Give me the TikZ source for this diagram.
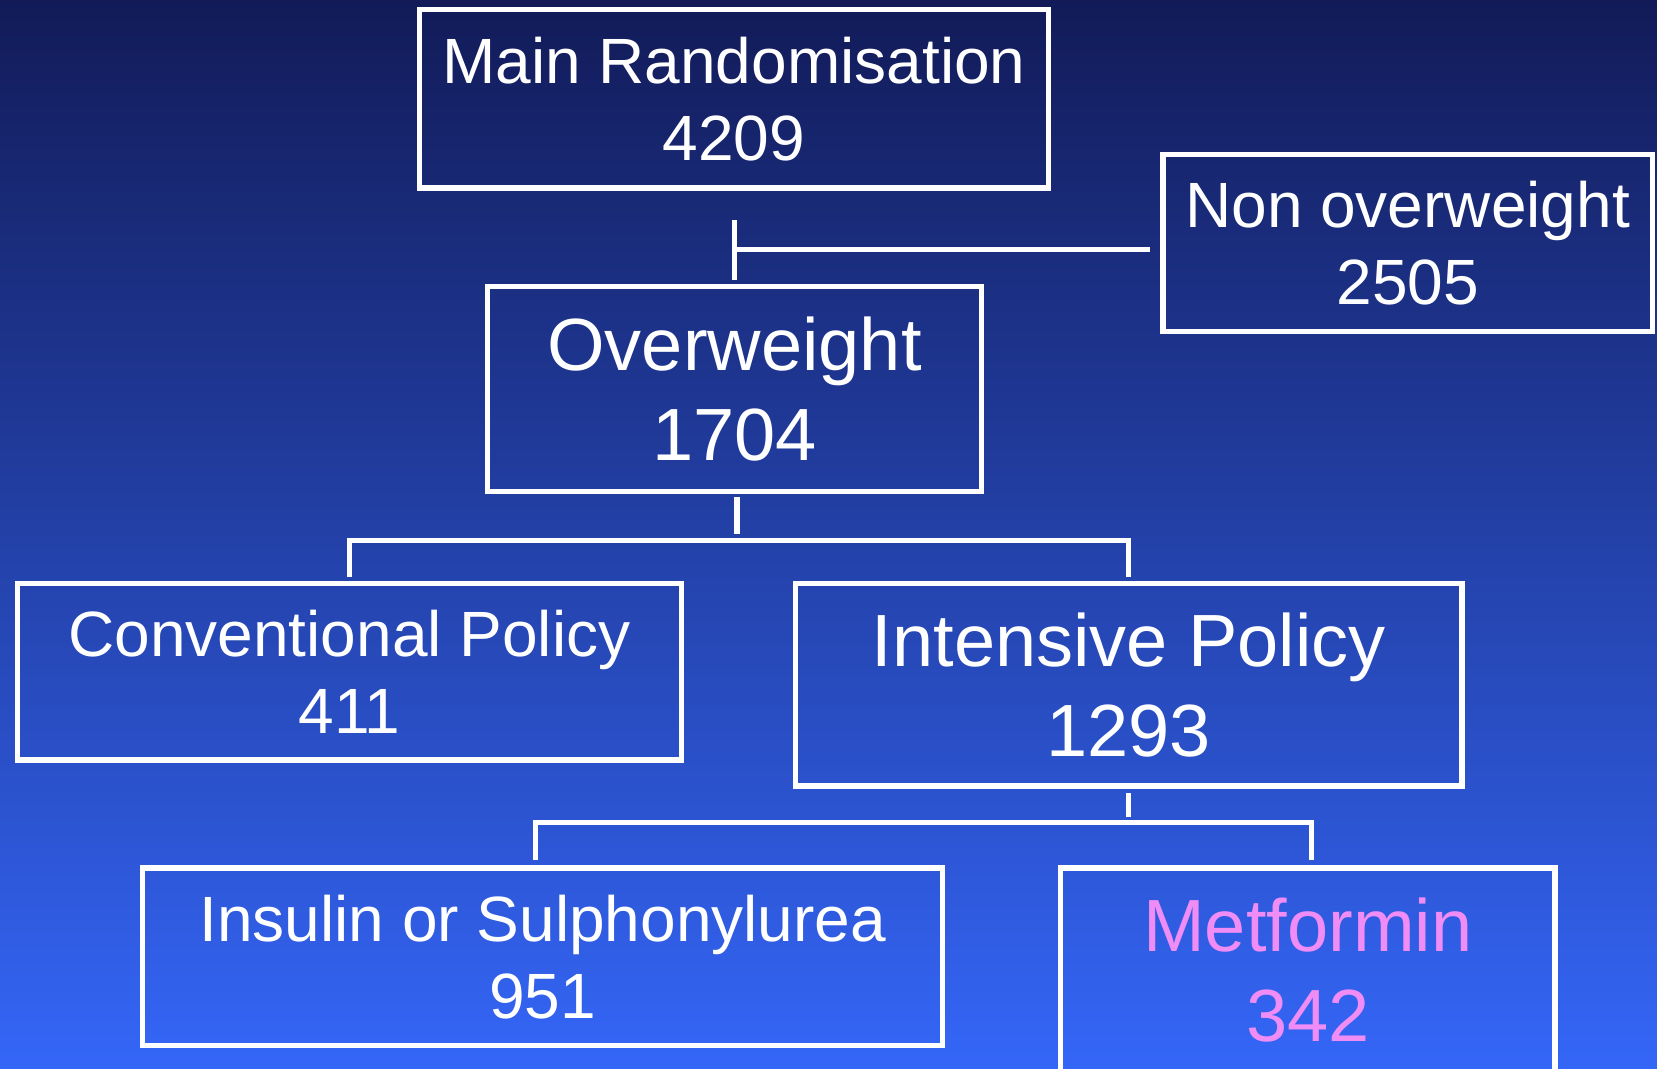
\documentclass[tikz,border=0pt]{standalone}
\usepackage{fontspec}
\setmainfont{Liberation Sans}
\usetikzlibrary{calc}
\definecolor{bgtop}{RGB}{18,27,88}
\definecolor{bgmid}{RGB}{38,77,195}
\definecolor{bgbot}{RGB}{52,102,247}
\definecolor{metpink}{RGB}{240,140,245}
\tikzset{
  boxbase/.style={draw=white, line width=3.9pt, rectangle, inner sep=0pt, align=center, text=white},
  smalltext/.style={font=\fontsize{48}{57.75}\selectfont},
  bigtext/.style={font=\fontsize{55.5}{67.5}\selectfont},
  conn/.style={draw=white, line width=3.9pt, line join=miter},
}
\begin{document}
\begin{tikzpicture}[x=0.75pt,y=-0.75pt]
\useasboundingbox (0,0) rectangle (1657,1069);
\clip (0,0) rectangle (1657,1069);
\shade[top color=bgtop, middle color=bgmid, bottom color=bgbot] (0,0) rectangle (1657,1069);

\node[boxbase, smalltext, minimum width=628.8*0.75pt, minimum height=178.6*0.75pt] (main) at (733.9,98.8) {Main Randomisation\\4209};
\node[boxbase, smalltext, minimum width=489.3*0.75pt, minimum height=177.5*0.75pt] (non) at (1407.6,243) {Non overweight\\2505};
\node[boxbase, bigtext, minimum width=494.6*0.75pt, minimum height=205*0.75pt] (over) at (734.5,388.9) {Overweight\\1704};
\node[boxbase, smalltext, minimum width=664.3*0.75pt, minimum height=176.7*0.75pt] (conv) at (349.5,671.7) {Conventional Policy\\411};
\node[boxbase, bigtext, minimum width=666.4*0.75pt, minimum height=202.7*0.75pt] (int) at (1128.8,684.7) {Intensive Policy\\1293};
\node[boxbase, smalltext, minimum width=800*0.75pt, minimum height=177.7*0.75pt] (ins) at (542.8,956.9) {Insulin or Sulphonylurea\\951};
\node[boxbase, bigtext, text=metpink, minimum width=494.5*0.75pt, minimum height=204*0.75pt] (met) at (1307.8,970) {Metformin\\342};

% connector points
\coordinate (a1) at (734.5,220);
\coordinate (a2) at (734.5,280);
\coordinate (a3) at (734.5,249.3);
\coordinate (a4) at (1150,249.3);
\coordinate (b1) at (737,497.5);
\coordinate (b2) at (737,534);
\coordinate (b3) at (349.8,577);
\coordinate (b4) at (349.8,540.3);
\coordinate (b5) at (1128.7,540.3);
\coordinate (b6) at (1128.7,577);
\coordinate (c1) at (1128.6,793);
\coordinate (c2) at (1128.6,816.5);
\coordinate (c3) at (535.7,859.5);
\coordinate (c4) at (535.7,822.5);
\coordinate (c5) at (1311.6,822.5);
\coordinate (c6) at (1311.6,860);

\draw[conn] (a1) -- (a2);
\draw[conn] (a3) -- (a4);
\draw[conn] (b1) -- (b2);
\draw[conn] (b3) -- (b4) -- (b5) -- (b6);
\draw[conn] (c1) -- (c2);
\draw[conn] (c3) -- (c4) -- (c5) -- (c6);
\end{tikzpicture}
\end{document}
